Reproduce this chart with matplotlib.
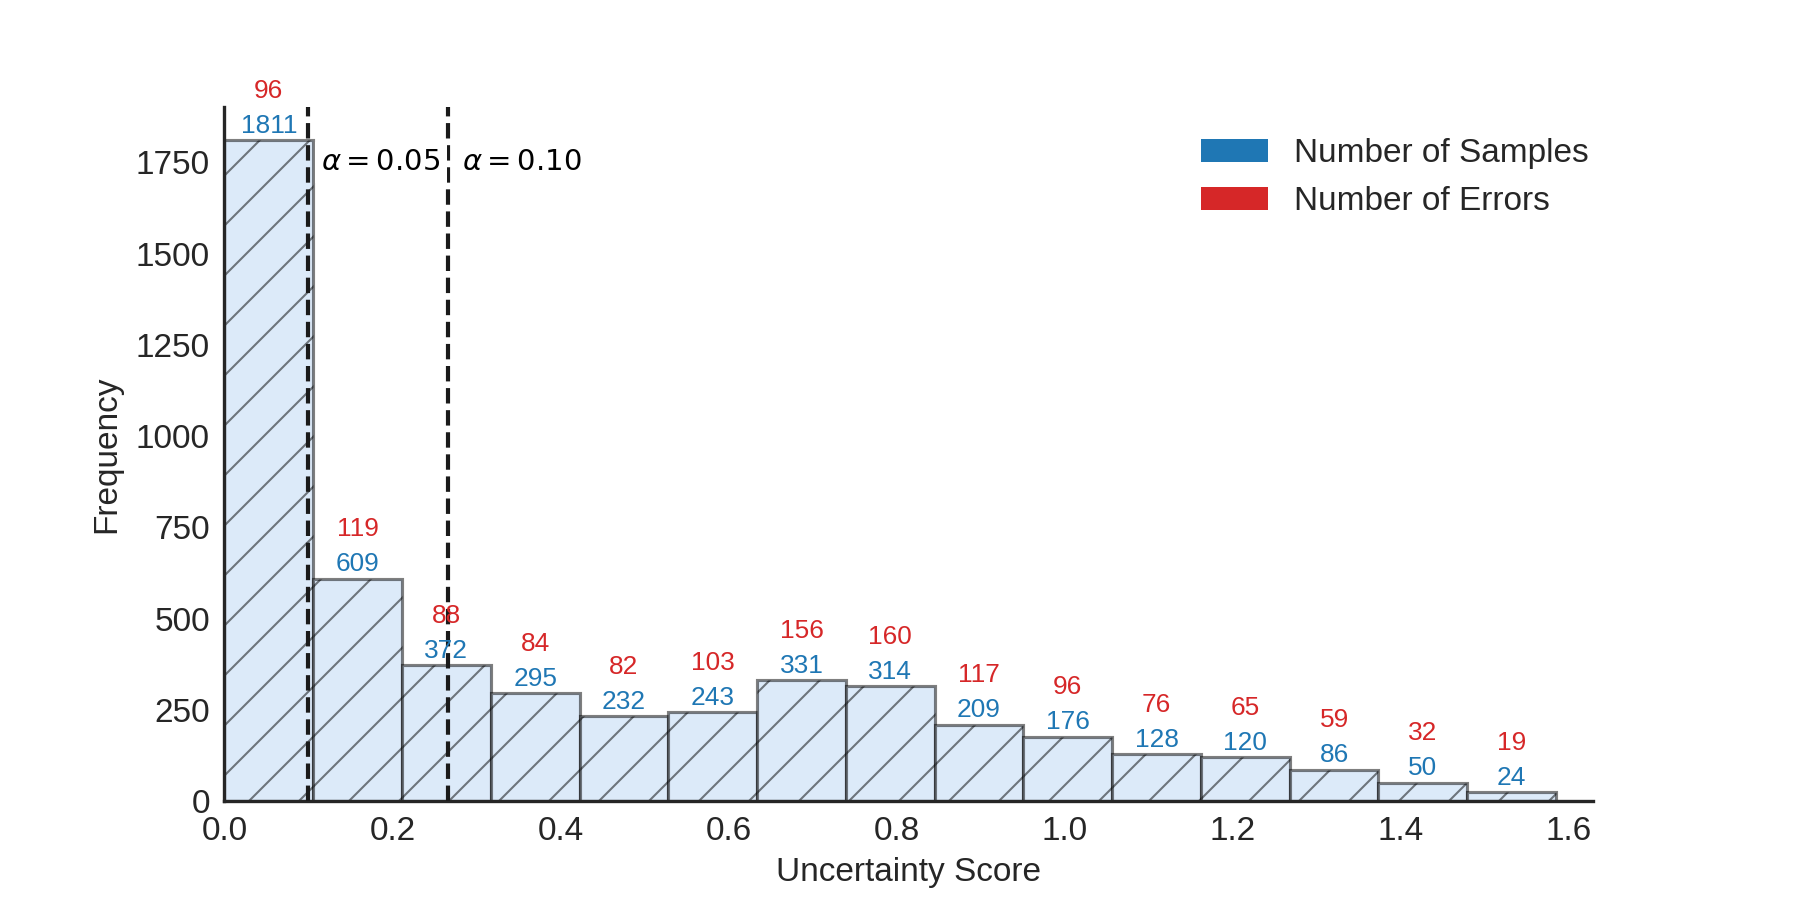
import numpy as np
import matplotlib
matplotlib.use("Agg")
import matplotlib.pyplot as plt
from matplotlib.patches import Patch

# ---- data ----
bin_edges = np.linspace(0.0, 1.585, 16)
sample_counts = [1811, 609, 372, 295, 232, 243, 331, 314, 209, 176, 128, 120, 86, 50, 24]
error_counts = [96, 119, 88, 84, 82, 103, 156, 160, 117, 96, 76, 65, 59, 32, 19]
thresholds = [0.0995, 0.2665]
threshold_labels = [r"$\alpha = 0.05$", r"$\alpha = 0.10$"]
x_ticks = [0.0, 0.2, 0.4, 0.6, 0.8, 1.0, 1.2, 1.4, 1.6]
y_ticks = [0, 250, 500, 750, 1000, 1250, 1500, 1750]

plt.rcParams["font.family"] = ["Liberation Sans", "DejaVu Sans"]
plt.rcParams["hatch.linewidth"] = 0.5
plt.rcParams["text.color"] = "#262626"
plt.rcParams["axes.labelcolor"] = "#262626"
plt.rcParams["xtick.color"] = "#262626"
plt.rcParams["ytick.color"] = "#262626"

fig = plt.figure(figsize=(6, 3), dpi=300)
ax = fig.add_axes([0.1247, 0.11, 0.7603, 0.771])

lefts = bin_edges[:-1]
widths = np.diff(bin_edges)
ax.bar(lefts, sample_counts, width=widths, align="edge",
       facecolor="#dceaf9", edgecolor=(0, 0, 0, 0.5), linewidth=0.75,
       hatch="//", zorder=2)

centers = lefts + widths / 2
for xc, n, e in zip(centers, sample_counts, error_counts):
    ax.annotate(str(n), (xc, n), xytext=(0, 0.6), textcoords="offset points",
                ha="center", va="bottom", fontsize=6.3, color="#1f77b4", zorder=5)
    ax.annotate(str(e), (xc, n), xytext=(0, 9.0), textcoords="offset points",
                ha="center", va="bottom", fontsize=6.3, color="#d62728", zorder=5)

for t, lab in zip(thresholds, threshold_labels):
    ax.axvline(t, color="#1a1a1a", linestyle="--", linewidth=1.0, zorder=3)
    ax.text(t + 0.016, 1750, lab, ha="left", va="center", fontsize=7,
            color="black", zorder=4,
            bbox=dict(facecolor="white", edgecolor="none", pad=1.5))

ax.set_xlim(0, 1.629)
ax.set_ylim(0, 1901.5)
ax.set_xticks(x_ticks)
ax.set_xticklabels([f"{v:.1f}" for v in x_ticks])
ax.set_yticks(y_ticks)
ax.tick_params(axis="both", length=0, labelsize=8, pad=3.5)
ax.set_xlabel("Uncertainty Score", fontsize=8, labelpad=2.6)
ax.set_ylabel("Frequency", fontsize=8, labelpad=3.2)

for s in ["top", "right"]:
    ax.spines[s].set_visible(False)
for s in ["left", "bottom"]:
    ax.spines[s].set_color("#262626")
    ax.spines[s].set_linewidth(0.8)

handles = [Patch(facecolor="#1f77b4", edgecolor="none", label="Number of Samples"),
           Patch(facecolor="#d62728", edgecolor="none", label="Number of Errors")]
ax.legend(handles=handles, loc="upper right", frameon=False, fontsize=8,
          bbox_to_anchor=(1.019, 0.998))

fig.savefig("out.png", dpi=300)
